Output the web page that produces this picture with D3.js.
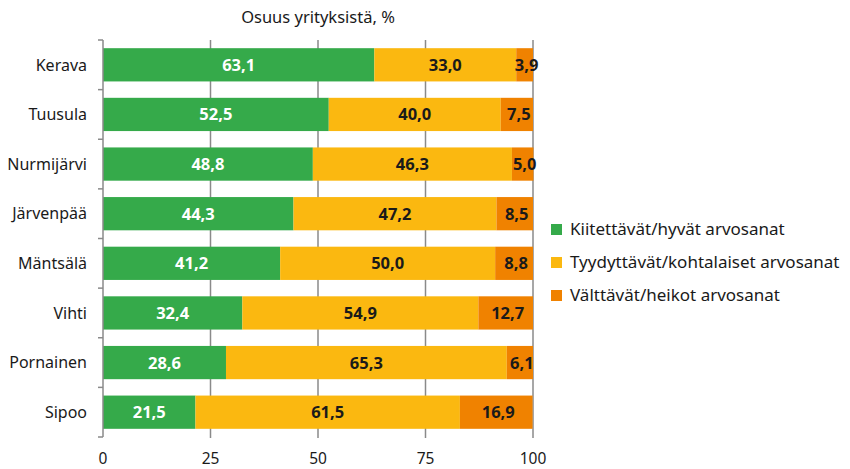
<!DOCTYPE html>
<html>
<head>
<meta charset="utf-8">
<script src="https://cdn.jsdelivr.net/npm/d3@7"></script>
<style>
  body { margin: 0; background: #fff; }
  text { font-family: "Noto Sans", "Open Sans", sans-serif; }
</style>
</head>
<body>
<svg id="svg"></svg>
<script>
// Kuntien arvosanat
const municipalities = ['Kerava', 'Tuusula', 'Nurmijärvi', 'Järvenpää', 'Mäntsälä', 'Vihti', 'Pornainen', 'Sipoo'];
const good = [63.1, 52.5, 48.8, 44.3, 41.2, 32.4, 28.6, 21.5];
const fair = [33.0, 40.0, 46.3, 47.2, 50.0, 54.9, 65.3, 61.5];
const weak = [3.9, 7.5, 5.0, 8.5, 8.8, 12.7, 6.1, 16.9];
const seriesNames = ['Kiitettävät/hyvät arvosanat', 'Tyydyttävät/kohtalaiset arvosanat', 'Välttävät/heikot arvosanat'];
const seriesColors = ['#35aa4a', '#fbb810', '#f08200'];
const xTicks = [0, 25, 50, 75, 100];

const width = 850;
const height = 469;

const svg = d3.select('#svg')
  .attr('width', width)
  .attr('height', height);

const x = d3.scaleLinear().domain([0, 100]).range([103, 533]);
const y = d3.scaleBand().domain(municipalities).range([40, 437]).paddingInner(0.33).paddingOuter(0.165);

const rows = municipalities.map((m, i) => ({ name: m, k0: good[i], k1: fair[i], k2: weak[i] }));
const stack = d3.stack().keys(['k0', 'k1', 'k2'])(rows);

// title
svg.append('text')
  .attr('x', 318)
  .attr('y', 23)
  .attr('text-anchor', 'middle')
  .attr('font-size', '16.5px')
  .attr('fill', '#1a1a1a')
  .text('Osuus yrityksistä, %');

// grid lines
svg.append('g').selectAll('line')
  .data(xTicks.slice(1))
  .join('line')
  .attr('x1', d => x(d))
  .attr('x2', d => x(d))
  .attr('y1', 40)
  .attr('y2', 438)
  .attr('stroke', '#8a8a8a')
  .attr('stroke-width', 1.5);

// bars
const layers = svg.append('g').selectAll('g')
  .data(stack)
  .join('g')
  .attr('fill', (d, i) => seriesColors[i]);

layers.selectAll('rect')
  .data(d => d)
  .join('rect')
  .attr('x', d => x(d[0]))
  .attr('width', d => x(d[1]) - x(d[0]))
  .attr('y', d => y(d.data.name))
  .attr('height', y.bandwidth());

// value labels
stack.forEach((layer, i) => {
  svg.append('g').selectAll('text')
    .data(layer)
    .join('text')
    .attr('x', d => (x(d[0]) + x(d[1])) / 2 + (i === 2 ? 2 : 0))
    .attr('y', d => y(d.data.name) + y.bandwidth() / 2)
    .attr('dy', '0.36em')
    .attr('text-anchor', 'middle')
    .attr('font-size', '16.5px')
    .attr('font-weight', 'bold')
    .attr('fill', i === 0 ? '#fff' : '#1a1a1a')
    .text(d => (d[1] - d[0]).toFixed(1).replace('.', ','));
});

// left axis
const yAxis = svg.append('g');
yAxis.append('line')
  .attr('x1', 103).attr('x2', 103)
  .attr('y1', 40).attr('y2', 437)
  .attr('stroke', '#8a8a8a')
  .attr('stroke-width', 1.5);
const bounds = municipalities.map(m => y(m) - y.step() * y.paddingInner() / 2);
bounds.push(437);
bounds[0] = 40;
yAxis.selectAll('line.tick')
  .data(bounds)
  .join('line')
  .attr('class', 'tick')
  .attr('x1', 98).attr('x2', 103)
  .attr('y1', d => d).attr('y2', d => d)
  .attr('stroke', '#8a8a8a')
  .attr('stroke-width', 1.5);
yAxis.selectAll('text')
  .data(municipalities)
  .join('text')
  .attr('x', 87)
  .attr('y', d => y(d) + y.bandwidth() / 2)
  .attr('dy', '0.36em')
  .attr('text-anchor', 'end')
  .attr('font-size', '16px')
  .attr('fill', '#1a1a1a')
  .text(d => d);

// bottom axis labels
svg.append('g').selectAll('text')
  .data(xTicks)
  .join('text')
  .attr('x', d => x(d))
  .attr('y', 464)
  .attr('text-anchor', 'middle')
  .attr('font-size', '15.5px')
  .attr('fill', '#1a1a1a')
  .text(d => d);

// legend
const legend = svg.append('g').attr('transform', 'translate(551, 229)');
seriesNames.forEach((name, i) => {
  const row = legend.append('g').attr('transform', `translate(0, ${i * 33})`);
  row.append('rect')
    .attr('x', 0).attr('y', -5)
    .attr('width', 11).attr('height', 11)
    .attr('fill', seriesColors[i]);
  row.append('text')
    .attr('x', 19)
    .attr('y', 0)
    .attr('dy', '0.36em')
    .attr('font-size', '17px')
    .attr('fill', '#1a1a1a')
    .text(name);
});
</script>
</body>
</html>
